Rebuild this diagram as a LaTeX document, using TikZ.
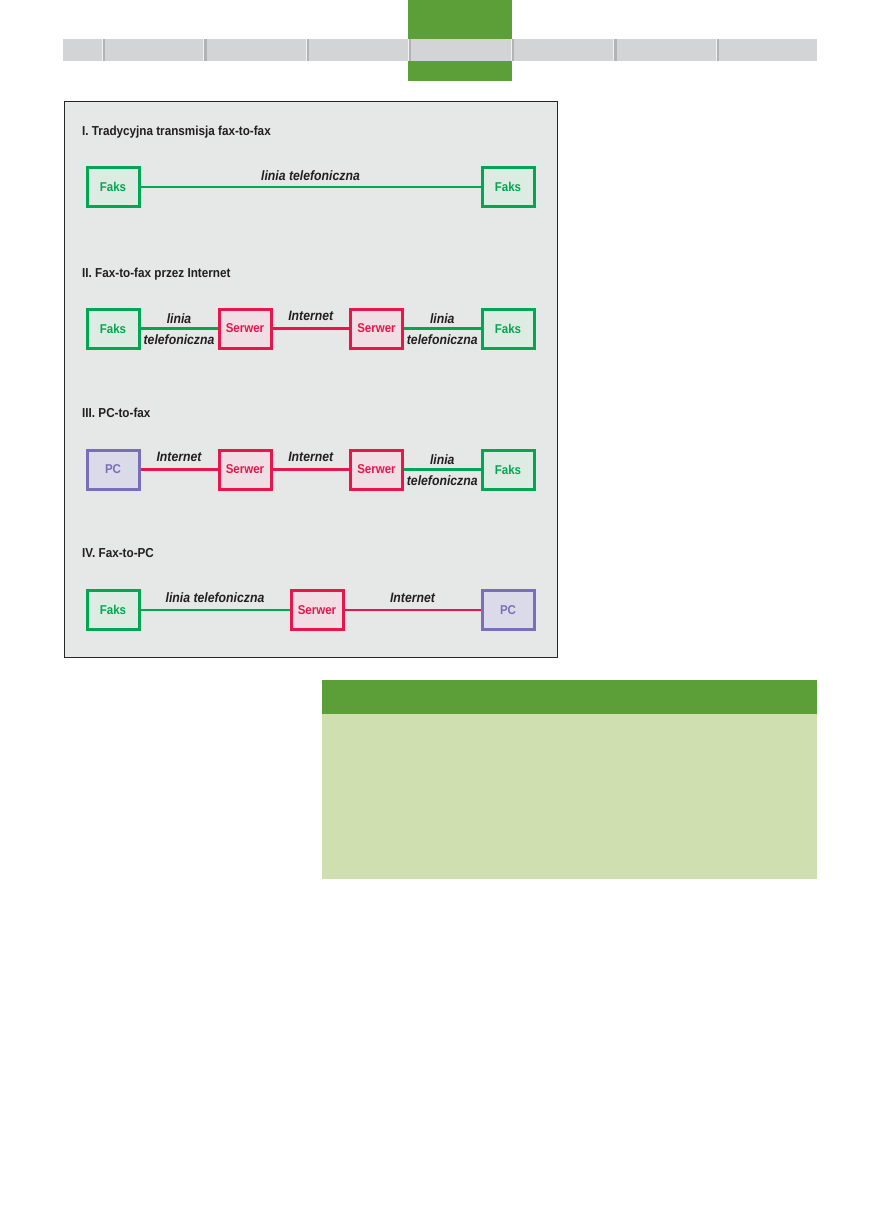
\documentclass[tikz,border=0pt]{standalone}
\definecolor{faxGreen}{RGB}{0, 166, 81}
\definecolor{faxFill}{RGB}{221, 236, 226}
\definecolor{srvRed}{RGB}{232, 22, 75}
\definecolor{srvFill}{RGB}{240, 222, 228}
\definecolor{pcViolet}{RGB}{122, 110, 186}
\definecolor{pcFill}{RGB}{218, 218, 232}
\definecolor{panelGray}{RGB}{230, 231, 231}
\definecolor{barGray}{RGB}{211, 212, 214}
\definecolor{barShade}{RGB}{178, 179, 181}
\definecolor{tabGreen}{RGB}{92, 159, 56}
\definecolor{noteGreen}{RGB}{208, 223, 176}
\definecolor{labelInk}{RGB}{35, 31, 32}
\usepackage{fontspec}
\newfontfamily\diagfont{Liberation Sans}[FakeStretch=0.9]
\usepackage{tikz}
\usetikzlibrary{positioning}

\begin{document}
\begin{tikzpicture}[
    x=1pt, y=-1pt,
    unit/.style={line width=3pt, minimum width=52pt, minimum height=39pt, inner sep=0pt,
                 font=\diagfont\bfseries\fontsize{12.8}{14}\selectfont},
    faks/.style={unit, draw=faxGreen, fill=faxFill, text=faxGreen},
    serwer/.style={unit, draw=srvRed, fill=srvFill, text=srvRed},
    pcbox/.style={unit, draw=pcViolet, fill=pcFill, text=pcViolet},
    title/.style={anchor=base west, inner sep=0pt, text=labelInk,
                  font=\diagfont\bfseries\fontsize{13}{15}\selectfont},
    wire/.style={line width=2pt},
    wirethick/.style={line width=3pt},
    tel/.style={wire, faxGreen},
    telthick/.style={wirethick, faxGreen},
    net/.style={wire, srvRed},
    netthick/.style={wirethick, srvRed},
    mylabel/.style={inner sep=0pt, text=labelInk,
                    font=\diagfont\bfseries\itshape\fontsize{13.6}{15}\selectfont},
  ]
    % Page
    \useasboundingbox[fill=white] (0,0) rectangle (872,1221);

    % Header strip
    \fill[tabGreen] (408,0) rectangle (511.5,81);
    \fill[barGray] (63,39) rectangle (817,61);
    \foreach \x in {103,204.5,307,409,512,614.5,717} {
      \draw[white!70!barGray, line width=1pt] (\x-1,39) -- (\x-1,61);
      \fill[barShade] (\x-0.5,39) rectangle (\x+2,61);
    }

    % Panel
    \draw[fill=panelGray, draw=black!85, line width=1pt] (64,101) rectangle (557,657);

    % I
    \node[title] (t1) at (82,135.7) {I. Tradycyjna transmisja fax-to-fax};
    \node[faks] (f1a) at (113,187) {Faks};
    \node[faks] (f1b) at (508,187) {Faks};
    \draw[tel] (f1a) -- (f1b) node[mylabel, midway, above=5.3pt] (l1) {linia telefoniczna};

    % II
    \node[title] (t2) at (82,277) {II. Fax-to-fax przez Internet};
    \node[faks] (f2a) at (113,328.5) {Faks};
    \node[serwer] (s2a) at (245,328.5) {Serwer};
    \node[serwer] (s2b) at (376.5,328.5) {Serwer};
    \node[faks] (f2b) at (508,328.5) {Faks};
    \draw[telthick] (f2a) -- (s2a)
      node[mylabel, midway, above=3.3pt] (l2a) {linia}
      node[mylabel, midway, below=4.8pt] (l2b) {telefoniczna};
    \draw[netthick] (s2a) -- (s2b) node[mylabel, midway, above=6pt] (l2c) {Internet};
    \draw[telthick] (s2b) -- (f2b)
      node[mylabel, midway, above=3.3pt] (l2d) {linia}
      node[mylabel, midway, below=4.8pt] (l2e) {telefoniczna};

    % III
    \node[title] (t3) at (82,417) {III. PC-to-fax};
    \node[pcbox] (p3) at (113,469.5) {PC};
    \node[serwer] (s3a) at (245,469.5) {Serwer};
    \node[serwer] (s3b) at (376.5,469.5) {Serwer};
    \node[faks] (f3) at (508,469.5) {Faks};
    \draw[netthick] (p3) -- (s3a) node[mylabel, midway, above=6pt] (l3a) {Internet};
    \draw[netthick] (s3a) -- (s3b) node[mylabel, midway, above=6pt] (l3b) {Internet};
    \draw[telthick] (s3b) -- (f3)
      node[mylabel, midway, above=3.3pt] (l3c) {linia}
      node[mylabel, midway, below=4.8pt] (l3d) {telefoniczna};

    % IV
    \node[title] (t4) at (82,557.7) {IV. Fax-to-PC};
    \node[faks] (f4) at (113,610) {Faks};
    \node[serwer] (s4) at (317,610) {Serwer};
    \node[pcbox] (p4) at (508,610) {PC};
    \draw[tel] (f4) -- (s4) node[mylabel, midway, above=6pt] (l4a) {linia telefoniczna};
    \draw[net] (s4) -- (p4) node[mylabel, midway, above=6pt] (l4b) {Internet};

    % Note box
    \fill[tabGreen] (322,680) rectangle (817,714);
    \fill[noteGreen] (322,714) rectangle (817,879);
  \end{tikzpicture}
\end{document}
